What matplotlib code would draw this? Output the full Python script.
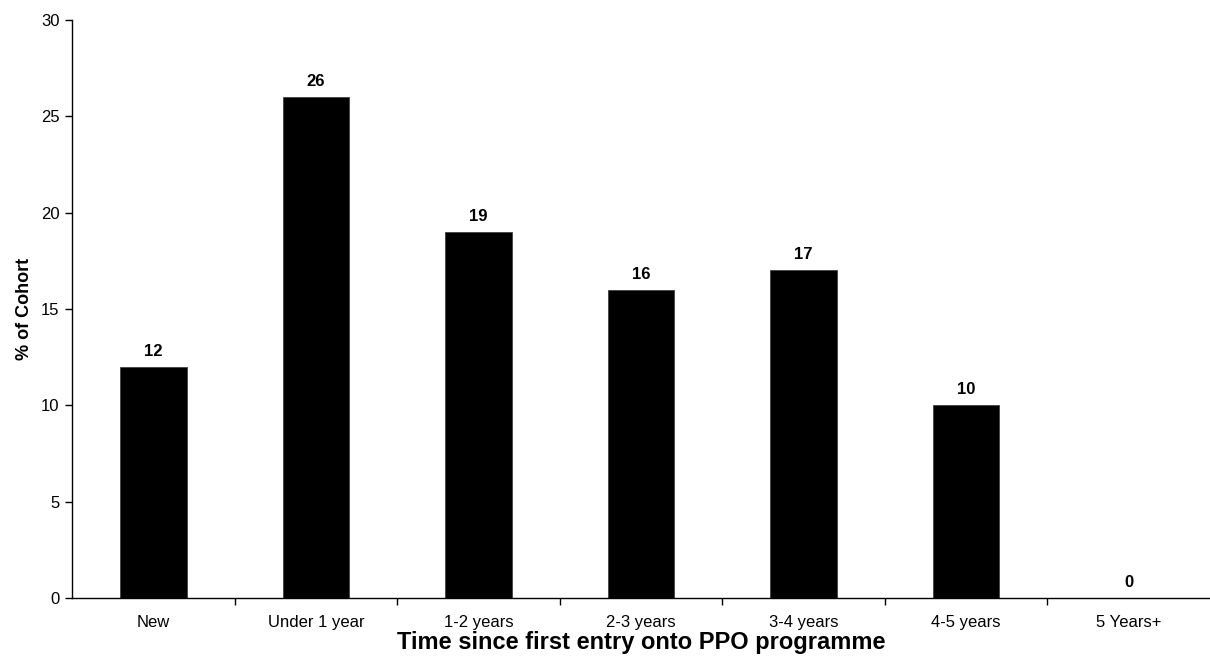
import matplotlib
matplotlib.use("Agg")
import matplotlib.pyplot as plt
import numpy as np

categories = ["New", "Under 1 year", "1-2 years", "2-3 years", "3-4 years", "4-5 years", "5 Years+"]
cohort_pct = [12, 26, 19, 16, 17, 10, 0]
y_ticks = [0, 5, 10, 15, 20, 25, 30]

plt.rcParams['font.family'] = ['Liberation Sans', 'DejaVu Sans']

fig = plt.figure(figsize=(12.1, 6.61), dpi=100)
ax = fig.add_axes([72 / 1210, 63 / 661, 1138 / 1210, 578 / 661])

x = np.arange(len(categories))
ax.bar(x, cohort_pct, width=0.41, color="black", edgecolor="#404040", linewidth=0.6)

for xi, v in zip(x, cohort_pct):
    ax.text(xi, v + 0.42, f"{v}", ha="center", va="bottom", fontsize=12, fontweight="bold")

ax.set_xlim(-0.5, len(categories) - 0.5)
ax.set_ylim(0, 30)
ax.set_yticks(y_ticks)
ax.set_yticklabels([str(t) for t in y_ticks], fontsize=12)

# category labels centred under each bar, tick marks on the category boundaries
ax.set_xticks(x)
ax.set_xticklabels(categories, fontsize=12)
ax.tick_params(axis="x", which="major", length=0, pad=12)
ax.set_xticks(np.arange(0.5, len(categories) - 0.5), minor=True)
ax.tick_params(axis="x", which="minor", length=5, width=1, direction="out")
ax.tick_params(axis="y", length=5, width=1, direction="out", pad=4)

for side in ["top", "right"]:
    ax.spines[side].set_visible(False)
for side in ["left", "bottom"]:
    ax.spines[side].set_color("black")
    ax.spines[side].set_linewidth(1)

ax.set_xlabel("Time since first entry onto PPO programme", fontsize=17, fontweight="bold", labelpad=1)
ax.set_ylabel("% of Cohort", fontsize=13, fontweight="bold", labelpad=6)

fig.savefig("out.png", dpi=100)
